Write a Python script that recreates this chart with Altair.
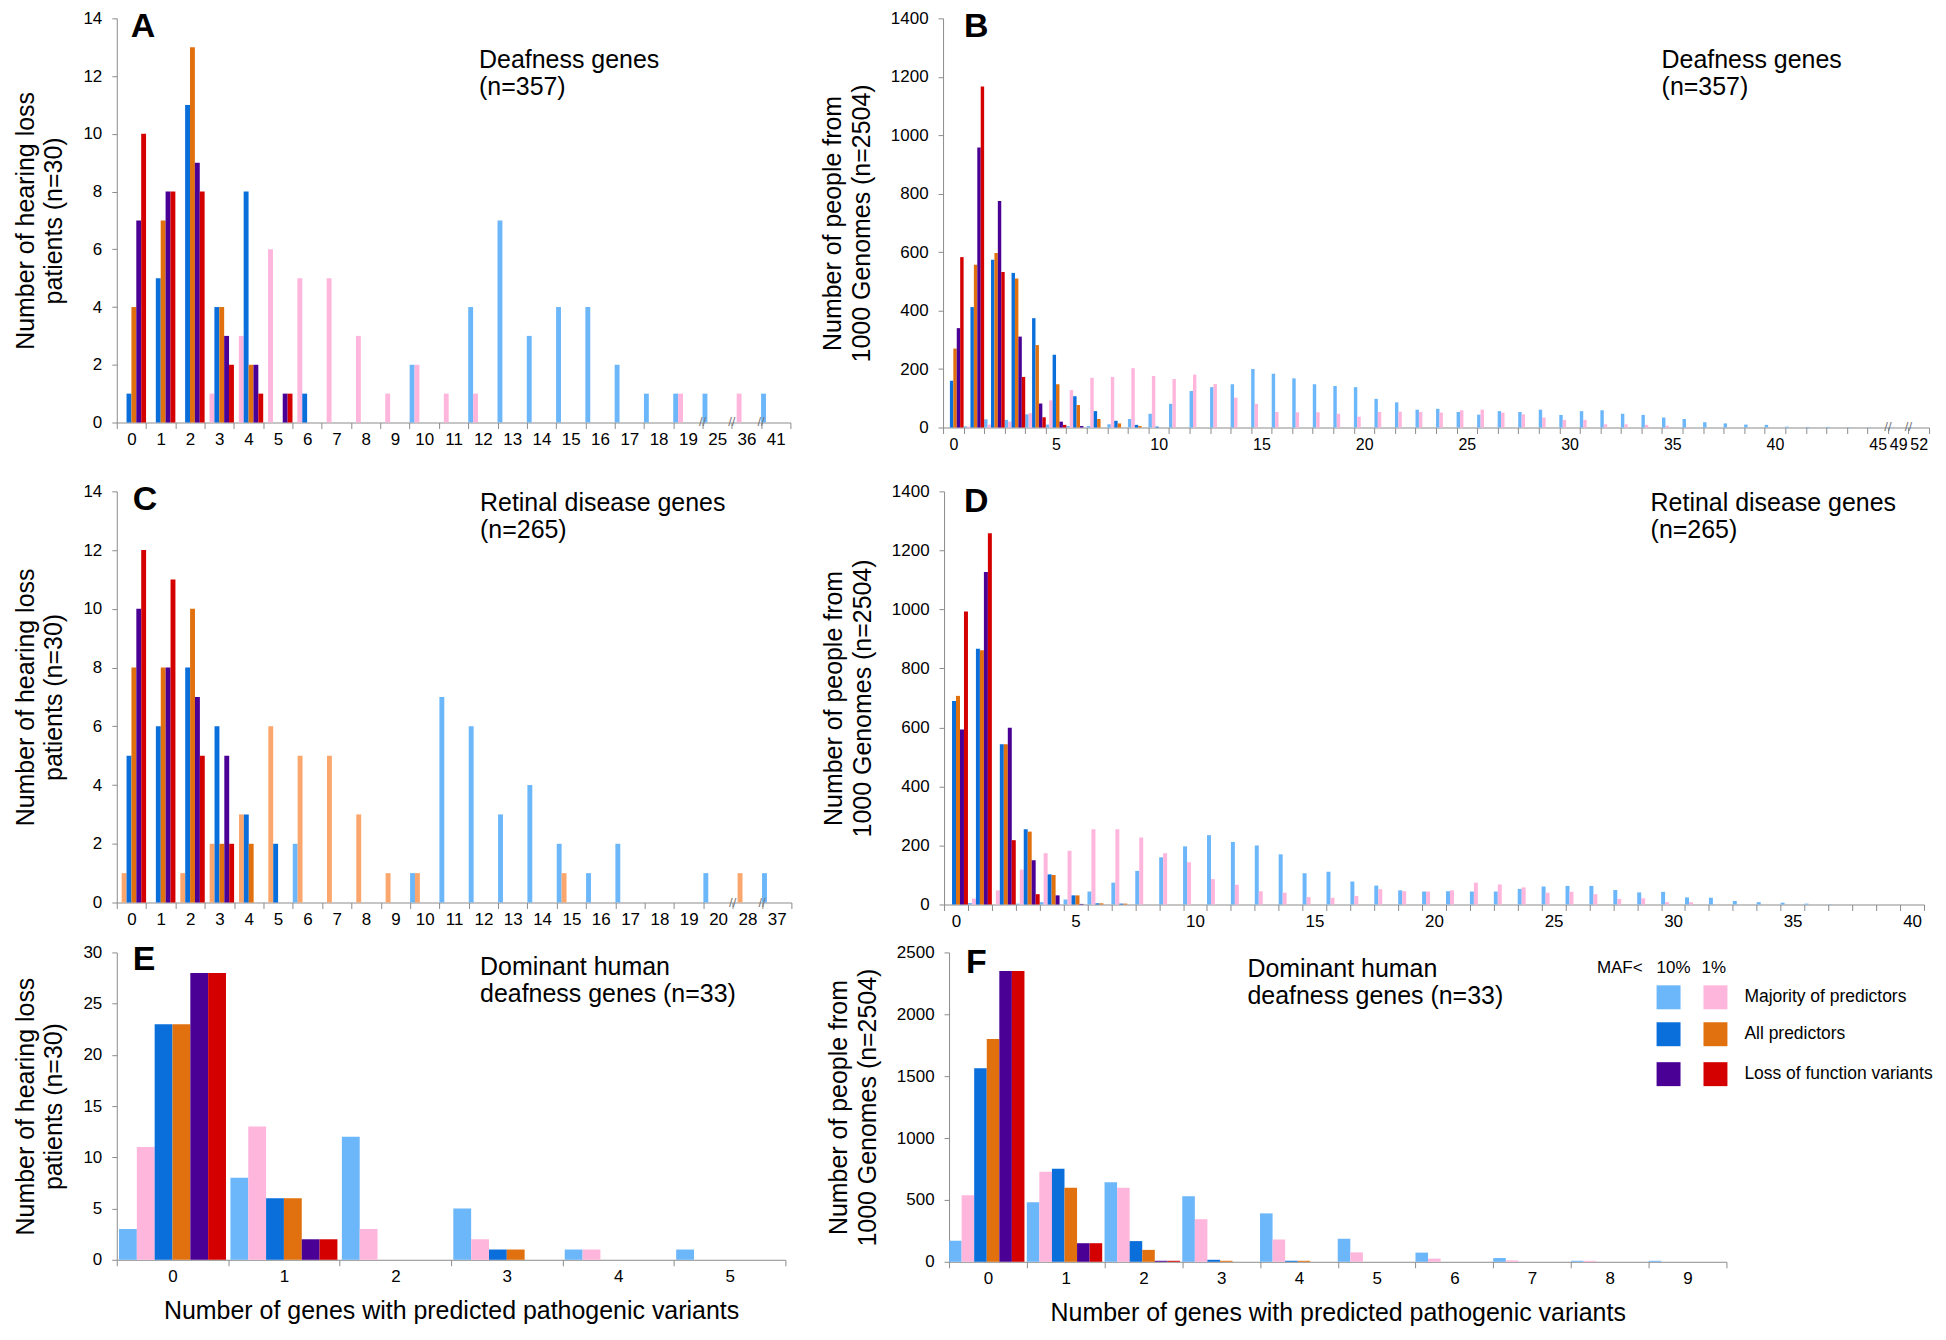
import altair as alt
import pandas as pd

FONT = "Liberation Sans"
SERIES = ["maf10_majority", "maf1_majority", "maf10_all", "maf1_all", "maf10_lof", "maf1_lof"]

LIGHT_BLUE = "#6cb6fa"
PINK = "#ffb6dc"
BLUE = "#0a6edb"
ORANGE = "#e0710e"
PURPLE = "#4a0094"
RED = "#d40000"
LIGHT_ORANGE = "#fba66c"
AXIS_GRAY = "#8c8c8c"

Y_TITLE_PAT = ["Number of hearing loss", "patients (n=30)"]
Y_TITLE_1KG = ["Number of people from", "1000 Genomes (n=2504)"]
X_TITLE = "Number of genes with predicted pathogenic variants"

# ---------------- Panel A ----------------
A_CATS = ["0", "1", "2", "3", "4", "5", "6", "7", "8", "9", "10", "11", "12", "13", "14",
          "15", "16", "17", "18", "19", "25", "36", "41"]
A_LB = [0, 0, 0, 0, 0, 0, 0, 0, 0, 0, 2, 0, 4, 7, 3, 4, 4, 2, 1, 1, 1, 0, 1]
A_PK = [0, 0, 0, 1, 3, 6, 5, 5, 3, 1, 2, 1, 1, 0, 0, 0, 0, 0, 0, 1, 0, 1, 0]
A_BL = [1, 5, 11, 4, 8, 0, 1, 0, 0, 0, 0, 0, 0, 0, 0, 0, 0, 0, 0, 0, 0, 0, 0]
A_OR = [4, 7, 13, 4, 2, 0, 0, 0, 0, 0, 0, 0, 0, 0, 0, 0, 0, 0, 0, 0, 0, 0, 0]
A_PU = [7, 8, 9, 3, 2, 1, 0, 0, 0, 0, 0, 0, 0, 0, 0, 0, 0, 0, 0, 0, 0, 0, 0]
A_RD = [10, 8, 8, 2, 1, 1, 0, 0, 0, 0, 0, 0, 0, 0, 0, 0, 0, 0, 0, 0, 0, 0, 0]
A_BREAKS = ["25", "36", "41"]

# ---------------- Panel B ----------------
B_CATS = ["0", "1", "2", "3", "4", "5", "6", "7", "8", "9", "10", "11", "12", "13", "14",
          "15", "16", "17", "18", "19", "20", "21", "22", "23", "24", "25", "26", "27", "28",
          "29", "30", "31", "32", "33", "34", "35", "36", "37", "38", "39", "40", "41", "42",
          "43", "44", "45", "49", "52"]
B_LB = [0, 4, 28, 26, 45, 10, 5, 5, 11, 29, 47, 81, 125, 138, 148, 200, 184, 168, 148, 142,
        138, 98, 86, 61, 64, 53, 44, 56, 53, 61, 43, 56, 59, 47, 43, 34, 29, 18, 14, 10,
        9, 3, 2, 2, 1, 1, 1, 1]
B_PK = [0, 3, 10, 20, 49, 93, 128, 170, 173, 203, 176, 166, 181, 149, 102, 81, 53, 52, 52, 47,
        37, 53, 54, 53, 51, 59, 61, 51, 45, 34, 26, 26, 11, 11, 9, 6, 2, 0, 0, 0,
        0, 0, 0, 0, 0, 0, 0, 0]
B_BL = [160, 412, 574, 529, 374, 249, 107, 56, 23, 9, 3, 0, 0, 0, 0, 0, 0, 0, 0, 0,
        0, 0, 0, 0, 0, 0, 0, 0, 0, 0, 0, 0, 0, 0, 0, 0, 0, 0, 0, 0,
        0, 0, 0, 0, 0, 0, 0, 0]
B_OR = [270, 557, 597, 510, 282, 148, 77, 29, 14, 5, 0, 0, 0, 0, 0, 0, 0, 0, 0, 0,
        0, 0, 0, 0, 0, 0, 0, 0, 0, 0, 0, 0, 0, 0, 0, 0, 0, 0, 0, 0,
        0, 0, 0, 0, 0, 0, 0, 0]
B_PU = [340, 958, 775, 311, 82, 20, 5, 0, 0, 0, 0, 0, 0, 0, 0, 0, 0, 0, 0, 0,
        0, 0, 0, 0, 0, 0, 0, 0, 0, 0, 0, 0, 0, 0, 0, 0, 0, 0, 0, 0,
        0, 0, 0, 0, 0, 0, 0, 0]
B_RD = [583, 1167, 532, 173, 35, 9, 0, 0, 0, 0, 0, 0, 0, 0, 0, 0, 0, 0, 0, 0,
        0, 0, 0, 0, 0, 0, 0, 0, 0, 0, 0, 0, 0, 0, 0, 0, 0, 0, 0, 0,
        0, 0, 0, 0, 0, 0, 0, 0]
B_LABELS = ["0", "5", "10", "15", "20", "25", "30", "35", "40", "45", "49", "52"]
B_BREAKS = ["49", "52"]

# ---------------- Panel C ----------------
C_CATS = ["0", "1", "2", "3", "4", "5", "6", "7", "8", "9", "10", "11", "12", "13", "14",
          "15", "16", "17", "18", "19", "20", "28", "37"]
C_LB = [0, 0, 0, 0, 0, 0, 2, 0, 0, 0, 1, 7, 6, 3, 4, 2, 1, 2, 0, 0, 1, 0, 1]
C_LO = [1, 0, 1, 2, 3, 6, 5, 5, 3, 1, 1, 0, 0, 0, 0, 1, 0, 0, 0, 0, 0, 1, 0]
C_BL = [5, 6, 8, 6, 3, 2, 0, 0, 0, 0, 0, 0, 0, 0, 0, 0, 0, 0, 0, 0, 0, 0, 0]
C_OR = [8, 8, 10, 2, 2, 0, 0, 0, 0, 0, 0, 0, 0, 0, 0, 0, 0, 0, 0, 0, 0, 0, 0]
C_PU = [10, 8, 7, 5, 0, 0, 0, 0, 0, 0, 0, 0, 0, 0, 0, 0, 0, 0, 0, 0, 0, 0, 0]
C_RD = [12, 11, 5, 2, 0, 0, 0, 0, 0, 0, 0, 0, 0, 0, 0, 0, 0, 0, 0, 0, 0, 0, 0]
C_BREAKS = ["28", "37"]

# ---------------- Panel D ----------------
D_CATS = ["0", "1", "2", "3", "4", "5", "6", "7", "8", "9", "10", "11", "12", "13", "14",
          "15", "16", "17", "18", "19", "20", "21", "22", "23", "24", "25", "26", "27", "28",
          "29", "30", "31", "32", "33", "34", "35", "36", "37", "38", "39", "40"]
D_LB = [0, 5, 0, 3, 8, 17, 44, 74, 114, 160, 197, 235, 212, 200, 170, 106, 111, 78, 64, 48,
        44, 45, 44, 44, 53, 61, 63, 63, 49, 41, 43, 24, 23, 12, 8, 6, 3, 1, 0, 0, 0]
D_PK = [0, 20, 48, 118, 174, 182, 255, 255, 227, 174, 143, 86, 67, 45, 40, 25, 23, 29, 52, 45,
        44, 48, 74, 68, 58, 40, 43, 35, 19, 21, 8, 8, 0, 0, 0, 0, 0, 0, 0, 0, 0]
D_BL = [690, 867, 543, 255, 102, 31, 4, 3, 0, 0, 0, 0, 0, 0, 0, 0, 0, 0, 0, 0,
        0, 0, 0, 0, 0, 0, 0, 0, 0, 0, 0, 0, 0, 0, 0, 0, 0, 0, 0, 0, 0]
D_OR = [707, 862, 543, 247, 100, 31, 4, 3, 0, 0, 0, 0, 0, 0, 0, 0, 0, 0, 0, 0,
        0, 0, 0, 0, 0, 0, 0, 0, 0, 0, 0, 0, 0, 0, 0, 0, 0, 0, 0, 0, 0]
D_PU = [593, 1127, 599, 150, 31, 2, 0, 0, 0, 0, 0, 0, 0, 0, 0, 0, 0, 0, 0, 0,
        0, 0, 0, 0, 0, 0, 0, 0, 0, 0, 0, 0, 0, 0, 0, 0, 0, 0, 0, 0, 0]
D_RD = [993, 1258, 218, 35, 0, 0, 0, 0, 0, 0, 0, 0, 0, 0, 0, 0, 0, 0, 0, 0,
        0, 0, 0, 0, 0, 0, 0, 0, 0, 0, 0, 0, 0, 0, 0, 0, 0, 0, 0, 0, 0]
D_LABELS = ["0", "5", "10", "15", "20", "25", "30", "35", "40"]

# ---------------- Panel E ----------------
E_CATS = ["0", "1", "2", "3", "4", "5"]
E_LB = [3, 8, 12, 5, 1, 1]
E_PK = [11, 13, 3, 2, 1, 0]
E_BL = [23, 6, 0, 1, 0, 0]
E_OR = [23, 6, 0, 1, 0, 0]
E_PU = [28, 2, 0, 0, 0, 0]
E_RD = [28, 2, 0, 0, 0, 0]

# ---------------- Panel F ----------------
F_CATS = ["0", "1", "2", "3", "4", "5", "6", "7", "8", "9"]
F_LB = [170, 481, 642, 530, 391, 186, 74, 30, 8, 8]
F_PK = [538, 727, 598, 344, 180, 76, 25, 11, 8, 0]
F_BL = [1563, 751, 167, 16, 8, 0, 0, 0, 0, 0]
F_OR = [1800, 598, 96, 8, 8, 0, 0, 0, 0, 0]
F_PU = [2350, 150, 8, 0, 0, 0, 0, 0, 0, 0]
F_RD = [2350, 150, 8, 0, 0, 0, 0, 0, 0, 0]

LEGEND_ROWS = ["Majority of predictors", "All predictors", "Loss of function variants"]
LEGEND_COLORS = [(LIGHT_BLUE, PINK), (BLUE, ORANGE), (PURPLE, RED)]


def make_df(cats, series_lists, colors):
    rows = []
    for name, vals, col in zip(SERIES, series_lists, colors):
        for cat, v in zip(cats, vals):
            if v > 0:
                rows.append({"cat": cat, "s": name, "v": v, "c": col})
    return pd.DataFrame(rows)


def text_layer(lines, x, y, size, weight="normal", align="left", baseline="alphabetic", line_height=None):
    kw = dict(text=lines, align=align, baseline=baseline, font=FONT, fontSize=size,
              fontWeight=weight, color="black")
    if line_height is not None:
        kw["lineHeight"] = line_height
    return alt.Chart(pd.DataFrame({"k": [0]})).mark_text(**kw).encode(
        x=alt.value(x), y=alt.value(y))


def panel(cats, series_lists, colors, ymax, yvals, ytitle, width, height,
          letter, letter_xy, sub_lines, sub_xy, label_list=None, breaks=(),
          xtitle=None, group_gap=(0.0, 0.0), xlabel_size=17, extra=()):
    df = make_df(cats, series_lists, colors)
    band = width / len(cats)
    x_axis = dict(labelAngle=0, tickBand="extent", labelOverlap=False, labelPadding=3,
                  tickSize=6, titlePadding=14, labelFontSize=xlabel_size, titleFontSize=25,
                  labelFont=FONT, titleFont=FONT, labelColor="black", titleColor="black",
                  titleFontWeight="normal", domainColor=AXIS_GRAY, tickColor=AXIS_GRAY,
                  grid=False)
    if label_list is not None:
        arr = ",".join("'%s'" % l for l in label_list)
        x_axis["labelExpr"] = "indexof([" + arr + "], datum.label) >= 0 ? datum.label : ''"
    x = alt.X("cat:N", sort=cats,
              scale=alt.Scale(domain=cats, paddingInner=0, paddingOuter=0),
              axis=alt.Axis(**x_axis), title=xtitle)
    y = alt.Y("v:Q", scale=alt.Scale(domain=[0, ymax], nice=False),
              axis=alt.Axis(values=yvals, format="d", labelPadding=10, tickSize=5,
                            titlePadding=16, titleLineHeight=29, labelFontSize=17,
                            titleFontSize=25, labelFont=FONT, titleFont=FONT,
                            labelColor="black", titleColor="black",
                            titleFontWeight="normal", domainColor=AXIS_GRAY,
                            tickColor=AXIS_GRAY, grid=False),
              title=ytitle)
    off_range = [band * group_gap[0], band * (1 - group_gap[1])]
    bars = alt.Chart(df).mark_bar().encode(
        x=x,
        xOffset=alt.XOffset("s:N", scale=alt.Scale(domain=SERIES, range=off_range,
                                                   paddingInner=0, paddingOuter=0)),
        y=y,
        color=alt.Color("c:N", scale=None),
    )
    layers = [bars]
    if breaks:
        bdf = pd.DataFrame({"cat": list(breaks), "v": [0 for _ in breaks]})
        layers.append(alt.Chart(bdf).mark_text(text="//", dx=-band / 2, fontSize=13,
                                                font=FONT, color="#777777",
                                                baseline="middle").encode(x=x, y=y))
    layers.append(text_layer(letter, letter_xy[0], letter_xy[1], 34, weight="bold"))
    layers.append(text_layer(sub_lines, sub_xy[0], sub_xy[1], 25, line_height=27))
    layers.extend(extra)
    return alt.layer(*layers).properties(width=width, height=height)


# Legend drawn inside panel F
legend_layers = [
    text_layer("MAF<", 695, 21, 17, align="right"),
    text_layer("10%", 709, 21, 17),
    text_layer("1%", 754, 21, 17),
]
ROW_Y = [33, 70, 110]
for (c1, c2), label, ry in zip(LEGEND_COLORS, LEGEND_ROWS, ROW_Y):
    for col, x0 in ((c1, 709), (c2, 756)):
        legend_layers.append(
            alt.Chart(pd.DataFrame({"k": [0]})).mark_rect(color=col).encode(
                x=alt.value(x0), x2=alt.value(x0 + 24), y=alt.value(ry), y2=alt.value(ry + 24)))
    legend_layers.append(text_layer(label, 797, ry + 12, 17.5, baseline="middle"))

pA = panel(A_CATS, [A_LB, A_PK, A_BL, A_OR, A_PU, A_RD],
           [LIGHT_BLUE, PINK, BLUE, ORANGE, PURPLE, RED],
           14, [0, 2, 4, 6, 8, 10, 12, 14], Y_TITLE_PAT, 675, 405,
           "A", (14, 19), ["Deafness genes", "(n=357)"], (363, 50), breaks=A_BREAKS)
pB = panel(B_CATS, [B_LB, B_PK, B_BL, B_OR, B_PU, B_RD],
           [LIGHT_BLUE, PINK, BLUE, ORANGE, PURPLE, RED],
           1400, [0, 200, 400, 600, 800, 1000, 1200, 1400], Y_TITLE_1KG, 988, 410,
           "B", (21, 19), ["Deafness genes", "(n=357)"], (720, 50),
           label_list=B_LABELS, breaks=B_BREAKS, xlabel_size=16)
pC = panel(C_CATS, [C_LB, C_LO, C_BL, C_OR, C_PU, C_RD],
           [LIGHT_BLUE, LIGHT_ORANGE, BLUE, ORANGE, PURPLE, RED],
           14, [0, 2, 4, 6, 8, 10, 12, 14], Y_TITLE_PAT, 676, 412,
           "C", (16, 19), ["Retinal disease genes", "(n=265)"], (364, 20), breaks=C_BREAKS)
pD = panel(D_CATS, [D_LB, D_PK, D_BL, D_OR, D_PU, D_RD],
           [LIGHT_BLUE, PINK, BLUE, ORANGE, PURPLE, RED],
           1400, [0, 200, 400, 600, 800, 1000, 1200, 1400], Y_TITLE_1KG, 982, 414,
           "D", (20, 21), ["Retinal disease genes", "(n=265)"], (708, 20),
           label_list=D_LABELS)
pE = panel(E_CATS, [E_LB, E_PK, E_BL, E_OR, E_PU, E_RD],
           [LIGHT_BLUE, PINK, BLUE, ORANGE, PURPLE, RED],
           30, [0, 5, 10, 15, 20, 25, 30], Y_TITLE_PAT, 670, 308,
           "E", (16, 18), ["Dominant human", "deafness genes (n=33)"], (364, 23),
           xtitle=X_TITLE, group_gap=(0.02, 0.02))
pF = panel(F_CATS, [F_LB, F_PK, F_BL, F_OR, F_PU, F_RD],
           [LIGHT_BLUE, PINK, BLUE, ORANGE, PURPLE, RED],
           2500, [0, 500, 1000, 1500, 2000, 2500], Y_TITLE_1KG, 779, 310,
           "F", (17, 21), ["Dominant human", "deafness genes (n=33)"], (299, 25),
           xtitle=X_TITLE, group_gap=(0.0, 0.03), extra=legend_layers)

row1 = alt.hconcat(pA, pB, spacing=153, bounds="flush").resolve_scale(xOffset="independent")
row2 = alt.hconcat(pC, pD, spacing=153, bounds="flush").resolve_scale(xOffset="independent")
row3 = alt.hconcat(pE, pF, spacing=164, bounds="flush").resolve_scale(xOffset="independent")
upper = alt.vconcat(row1, row2, spacing=30).resolve_scale(xOffset="independent")

chart = alt.vconcat(upper, row3, spacing=14).resolve_scale(
    xOffset="independent"
).properties(
    background="white",
    padding={"left": 5, "top": 0, "right": 5, "bottom": 0},
).configure_view(stroke=None)

chart.save("out.html", embed_options={"renderer": "svg", "actions": False})
